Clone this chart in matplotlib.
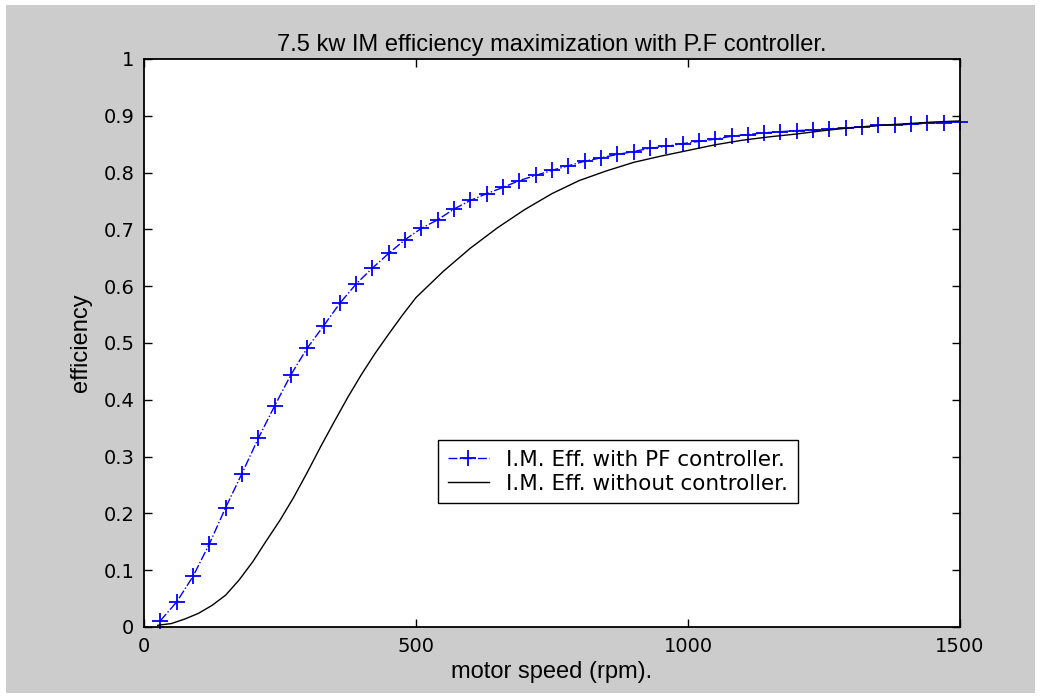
import matplotlib
matplotlib.use("Agg")
import matplotlib.pyplot as plt
from matplotlib.patches import Rectangle

# P.F controller curve: marker every 30 rpm
speed_pf = [30, 60, 90, 120, 150, 180, 210, 240, 270, 300,
            330, 360, 390, 420, 450, 480, 510, 540, 570, 600,
            630, 660, 690, 720, 750, 780, 810, 840, 870, 900,
            930, 960, 990, 1020, 1050, 1080, 1110, 1140, 1170, 1200,
            1230, 1260, 1290, 1320, 1350, 1380, 1410, 1440, 1470, 1500]
eff_pf = [0.011, 0.044, 0.089, 0.146, 0.210, 0.270, 0.332, 0.389, 0.444, 0.491,
          0.530, 0.570, 0.604, 0.632, 0.658, 0.682, 0.702, 0.717, 0.736, 0.751,
          0.763, 0.774, 0.786, 0.795, 0.804, 0.812, 0.820, 0.826, 0.832, 0.837,
          0.843, 0.846, 0.851, 0.855, 0.859, 0.864, 0.867, 0.870, 0.872, 0.874,
          0.875, 0.877, 0.879, 0.880, 0.883, 0.884, 0.885, 0.887, 0.888, 0.889]

# no controller curve
speed_nc = [25, 50, 75, 100, 125, 150, 175, 200, 225, 250,
            275, 300, 325, 350, 375, 400, 425, 450, 475, 500,
            550, 600, 650, 700, 750, 800, 850, 900, 950, 1000,
            1050, 1100, 1150, 1200, 1250, 1300, 1350, 1400, 1450, 1500]
eff_nc = [0.003, 0.006, 0.014, 0.024, 0.038, 0.056, 0.083, 0.115, 0.152, 0.188,
          0.228, 0.272, 0.318, 0.362, 0.405, 0.445, 0.482, 0.516, 0.549, 0.580,
          0.626, 0.667, 0.703, 0.735, 0.763, 0.786, 0.803, 0.818, 0.829, 0.839,
          0.849, 0.857, 0.863, 0.868, 0.874, 0.879, 0.883, 0.886, 0.889, 0.891]

x_ticks = [0, 500, 1000, 1500]
y_ticks = [0, 0.1, 0.2, 0.3, 0.4, 0.5, 0.6, 0.7, 0.8, 0.9, 1]
y_labels = ["0", "0.1", "0.2", "0.3", "0.4", "0.5", "0.6", "0.7", "0.8", "0.9", "1"]

fig = plt.figure(figsize=(10.48, 7), dpi=100, facecolor="white")
fig.patches.append(Rectangle((6 / 1048, 7 / 700), 1029 / 1048, 688 / 700,
                             transform=fig.transFigure, facecolor="#cccccc",
                             edgecolor="none", zorder=-10))
ax = fig.add_axes([144 / 1048, 73 / 700, 816 / 1048, 568 / 700])
ax.set_facecolor("white")

ax.plot(speed_pf, eff_pf, color="#0000ff", linestyle="-.", linewidth=1.0,
        marker="+", markersize=11, markeredgewidth=1.3,
        label="I.M. Eff. with PF controller.", clip_on=False)
ax.plot(speed_nc, eff_nc, color="black", linewidth=1.0,
        label="I.M. Eff. without controller.")

ax.set_xlim(0, 1500)
ax.set_ylim(0, 1)
ax.set_xticks(x_ticks)
ax.set_xticklabels([str(t) for t in x_ticks])
ax.set_yticks(y_ticks)
ax.set_yticklabels(y_labels)
ax.tick_params(direction="in", length=6, width=1, top=True, right=True,
               labelsize=14, colors="black", pad=7)
for lab in ax.get_xticklabels() + ax.get_yticklabels():
    lab.set_fontfamily("DejaVu Sans")
for sp in ax.spines.values():
    sp.set_linewidth(1.3)

ax.set_title("7.5 kw IM efficiency maximization with P.F controller.",
             fontsize=17, family="Liberation Sans", pad=6)
ax.set_xlabel("motor speed (rpm).", fontsize=17, family="Liberation Sans", labelpad=4)
ax.set_ylabel("efficiency", fontsize=17, family="Liberation Sans", labelpad=8)

leg = ax.legend(loc="upper left", bbox_to_anchor=((438 - 144) / 816, (627 - 440) / 568),
                frameon=True, fancybox=False, framealpha=1, edgecolor="black",
                numpoints=1, handlelength=1.9, handletextpad=0.8,
                borderpad=0.45, labelspacing=0.18, borderaxespad=0,
                prop={"family": "DejaVu Sans", "size": 15.5})
leg.get_frame().set_linewidth(1.0)

fig.savefig("out.png", dpi=100, facecolor=fig.get_facecolor())
